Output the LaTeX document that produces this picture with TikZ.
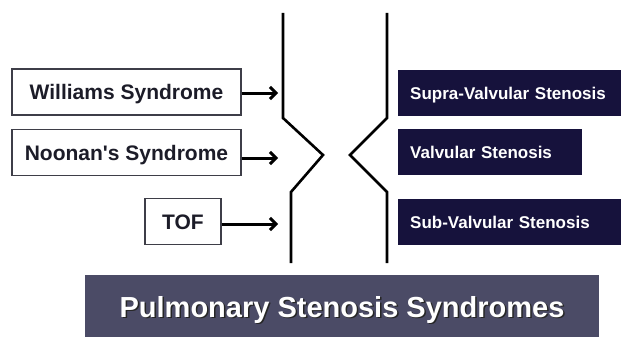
\documentclass[tikz,border=0pt]{standalone}
\usepackage{fontspec}
\setmainfont{Liberation Sans}
\usepackage{tikz}
\usetikzlibrary{positioning, arrows.meta}
\definecolor{navybox}{HTML}{16123C}
\definecolor{slatebox}{HTML}{4B4B66}
\definecolor{inkline}{HTML}{1C1C28}

\tikzset{
  syndrome/.style={draw=inkline!85, line width=1.3pt, fill=white, minimum height=46pt, inner sep=0pt,
    text height=15pt, text depth=0pt, font=\fontsize{21}{24}\selectfont\bfseries, text=inkline},
  site/.style={fill=navybox, minimum height=46pt, inner xsep=12pt, inner ysep=0pt, anchor=west, align=left,
    text height=13pt, text depth=0pt, font=\fontsize{17}{20}\selectfont\bfseries, text=white},
  banner/.style={fill=slatebox, minimum width=514pt, minimum height=62pt, inner sep=0pt},
  bannertext/.style={anchor=base, inner sep=0pt, font=\fontsize{29}{33}\selectfont\bfseries, text=white},
  wall/.style={line width=2.6pt, black, line join=miter},
  pointer/.style={draw=black, line width=3pt, -{Straight Barb[length=6pt, width=12pt]}},
}

\begin{document}
\begin{tikzpicture}[x=1pt, y=-1pt]
  \useasboundingbox (0,0) rectangle (623,337);

  % vessel walls with the narrowing
  \draw[wall] (283,13) -- (283,118) -- (323,155) -- (291,192) -- (291,263);
  \draw[wall] (387,13) -- (387,118) -- (350,155) -- (387,192) -- (387,263);

  % causes on the left
  \node[syndrome, minimum width=229pt] (wil) at (126.5,92) {Williams Syndrome};
  \node[syndrome, minimum width=229pt] (noo) at (126.5,152.5) {Noonan\textquotesingle s Syndrome};
  \node[syndrome, minimum width=76pt] (tof) at (183,221.5) {TOF};

  \coordinate (supraend) at (278,93);
  \coordinate (valvend) at (278,158);
  \coordinate (subend) at (278,224);
  \draw[pointer] (wil.east |- supraend) -- (supraend);
  \draw[pointer] (noo.east |- valvend) -- (valvend);
  \draw[pointer] (tof.east |- subend) -- (subend);

  % stenosis levels on the right
  \node[site, text width=199pt] (supra) at (398,92.5) {\mbox{Supra-Valvular Stenosis}};
  \node[site, text width=160pt] (valv) at (398,151.5) {Valvular Stenosis};
  \node[site, text width=199pt] (sub) at (398,222) {Sub-Valvular Stenosis};

  % title bar
  \node[banner] (bar) at (342,306) {};
  \node[bannertext, text=black!85] at ([xshift=1.5pt,yshift=-1.5pt]342,317) {Pulmonary Stenosis Syndromes};
  \node[bannertext] (title) at (342,317) {Pulmonary Stenosis Syndromes};
\end{tikzpicture}
\end{document}
